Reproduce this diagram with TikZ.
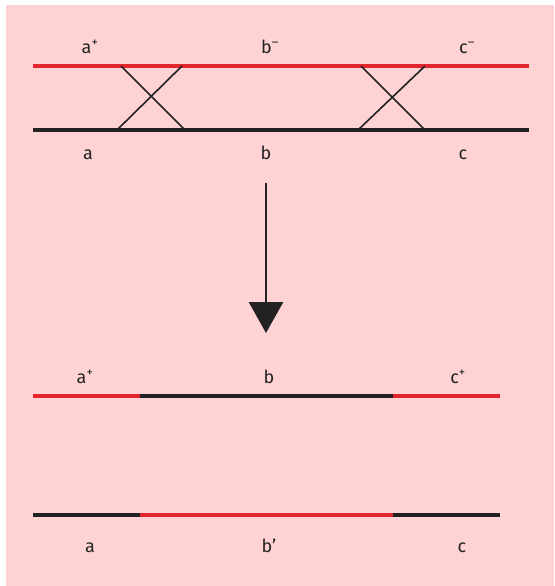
\documentclass[tikz,border=0pt]{standalone}
\usepackage{fontspec}
\setmainfont{Fira Sans}
\usetikzlibrary{arrows.meta}
\definecolor{bgpink}{HTML}{FFD3D3}
\definecolor{chred}{HTML}{E3262E}
\definecolor{chblack}{HTML}{222222}
\begin{document}
\begin{tikzpicture}[x=1pt,y=-1pt,
  strand/.style={line width=3.4pt},
  redstrand/.style={strand,chred},
  blackstrand/.style={strand,chblack},
  crossline/.style={line width=1.6pt,chblack},
  lbl/.style={font=\fontsize{18}{20}\selectfont,text=chblack,inner sep=0pt,anchor=base}]
\useasboundingbox (0,0) rectangle (554,586);
\fill[white] (0,0) rectangle (554,586);
\fill[bgpink] (6,5) rectangle (554,586);
% top chromatids
\coordinate (r1) at (33,66); \coordinate (r2) at (529,66);
\coordinate (k1) at (33,130); \coordinate (k2) at (529,130);
\draw[redstrand] (r1) -- (r2);
\draw[blackstrand] (k1) -- (k2);
% crossovers
\coordinate (x1a) at (121,66); \coordinate (x1b) at (185,130);
\coordinate (x1c) at (182,66); \coordinate (x1d) at (117,130);
\coordinate (x2a) at (361,66); \coordinate (x2b) at (425,130);
\coordinate (x2c) at (425,66); \coordinate (x2d) at (358,130);
\draw[crossline] (x1a) -- (x1b);
\draw[crossline] (x1c) -- (x1d);
\draw[crossline] (x2a) -- (x2b);
\draw[crossline] (x2c) -- (x2d);
% top labels
\node[lbl] (ta) at (90,53) {a\textsuperscript{+}};
\node[lbl] (tb) at (270,53) {b\textsuperscript{\textendash}};
\node[lbl] (tc) at (467,53) {c\textsuperscript{\textendash}};
\node[lbl] (ba) at (88,159) {a};
\node[lbl] (bb) at (266,159) {b};
\node[lbl] (bc) at (463,159) {c};
% arrow
\coordinate (ar1) at (266,183); \coordinate (ar2) at (266,333);
\draw[line width=2.8pt,chblack,-{Triangle[length=31pt,width=34pt]}] (ar1) -- (ar2);
% recombinant 1
\coordinate (m1) at (33,396); \coordinate (m2) at (140,396);
\coordinate (m3) at (393,396); \coordinate (m4) at (500,396);
\draw[redstrand] (m1) -- (m2);
\draw[blackstrand] (m2) -- (m3);
\draw[redstrand] (m3) -- (m4);
\node[lbl] (ma) at (85,383) {a\textsuperscript{+}};
\node[lbl] (mb) at (269,383) {b};
\node[lbl] (mc) at (458,383) {c\textsuperscript{+}};
% recombinant 2
\coordinate (n1) at (33,515); \coordinate (n2) at (140,515);
\coordinate (n3) at (393,515); \coordinate (n4) at (500,515);
\draw[blackstrand] (n1) -- (n2);
\draw[redstrand] (n2) -- (n3);
\draw[blackstrand] (n3) -- (n4);
\node[lbl] (na) at (90,552) {a};
\node[lbl] (nb) at (269,552) {b\textquoteright};
\node[lbl] (nc) at (462,552) {c};
\end{tikzpicture}
\end{document}
